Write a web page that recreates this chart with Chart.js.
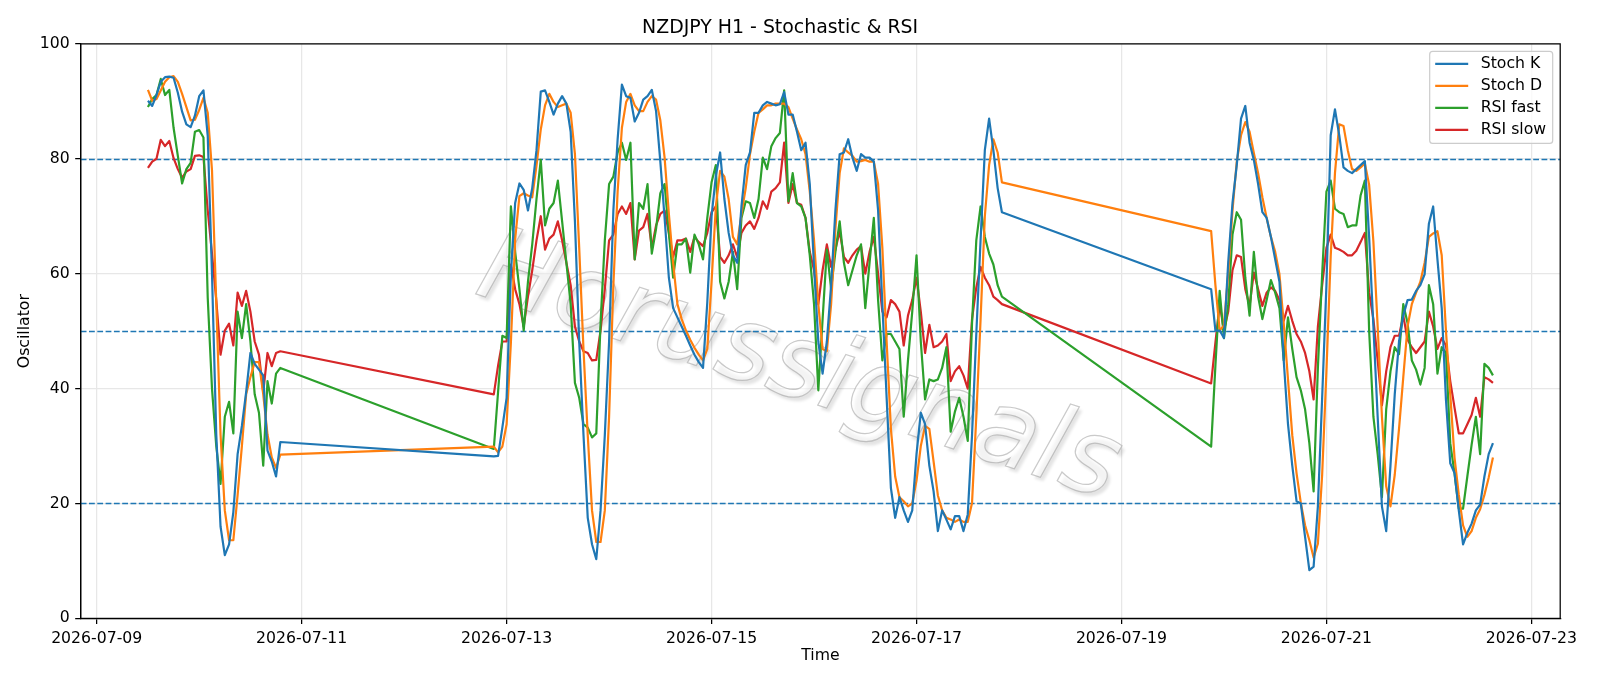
<!DOCTYPE html>
<html>
<head>
<meta charset="utf-8">
<title>NZDJPY H1 - Stochastic & RSI</title>
<script src="https://cdn.jsdelivr.net/npm/chart.js@4.4.1/dist/chart.umd.min.js"></script>
<style>
  html, body { margin: 0; padding: 0; background: #fff; }
  canvas { display: block; }
</style>
</head>
<body>
<canvas id="myChart" width="1600" height="686"></canvas>
<script>
// hourly bars, three runs separated by the weekends
var segments = [['2026-07-09 12:00', 32], ['2026-07-12 21:00', 120], ['2026-07-19 21:00', 67]];
var tickDates = ['2026-07-09', '2026-07-11', '2026-07-13', '2026-07-15', '2026-07-17', '2026-07-19', '2026-07-21', '2026-07-23'];
var yTicks = [0, 20, 40, 60, 80, 100];
var refLevels = [20, 50, 80];

var stochK = [
  90.1, 89.2, 91.1, 93.4, 94.2, 94.3, 94.1, 91.5, 88.2, 86.0, 85.5, 87.5, 90.9, 91.9, 84, 60,
  32, 16, 11.0, 12.9, 18.5, 28.6, 33.5, 39.4, 46.2, 44.3, 43.3, 42.3, 29.2, 27.3, 24.7, 30.7,
  // 07-12 21:00 ->
  28.2, 28.3, 33.2, 38.4, 60, 72.3, 75.7, 74.6, 71.0, 74.9,
  81.5, 91.7, 91.9, 89.9, 87.7, 89.6, 90.9, 89.6, 84.7, 69.1,
  48.2, 32, 17.5, 12.9, 10.3, 18.8, 31.9, 48.2, 71.0, 83.4,
  92.9, 90.9, 90.6, 86.5, 88.0, 90.3, 90.9, 92.0, 88.3, 79.5,
  69.7, 59.3, 54.0, 52.4, 50.8, 49.2, 47.5, 45.9, 44.6, 43.6,
  55, 70, 77, 81.1, 73.0, 67.1, 63.2, 61.9, 71.7, 78.9,
  81.1, 88.0, 88.0, 89.3, 89.9, 89.6, 89.3, 89.5, 91.6, 87.7,
  87.7, 84.7, 81.5, 82.8, 75.6, 61.2, 48.2, 42.6, 48.2, 58.0,
  71.0, 80.8, 81.1, 83.4, 80.2, 77.9, 80.8, 80.2, 80.2, 79.5,
  71.0, 54.7, 38.4, 22.7, 17.5, 21.1, 18.8, 16.8, 18.8, 28.6,
  35.8, 33.8, 26.6, 22.1, 15.2, 18.8, 17.2, 15.5, 17.8, 17.8,
  15.2, 18.1, 31.9, 49.5, 65.8, 81.5, 87.0, 81.5, 74.9, 70.7,
  // 07-19 21:00 ->
  57.3, 50.1, 50.1, 48.8, 62, 72.3, 78.9, 87.0, 89.2, 82.8,
  79.8, 75.6, 70.7, 69.7, 66.4, 62.5, 58.6, 44.9, 33.8, 26.6,
  20.4, 20.0, 14.2, 8.4, 9.0, 19.5, 38.4, 58.0, 84.1, 88.6,
  84.1, 78.5, 77.9, 77.5, 78.2, 78.9, 79.6, 66.4, 50.8, 35.1,
  19.5, 15.2, 26.6, 39.0, 48.2, 52.7, 55.4, 55.5, 57.0, 58.0,
  59.9, 68.7, 71.7, 62.5, 54, 38, 27, 25.3, 18.8, 12.9,
  14.9, 16.5, 18.8, 19.8, 24.7, 28.6, 30.5
];

var stochD = [
  92.0, 90.1, 90.4, 91.9, 93.4, 94.2, 94.4, 93.4, 91.3, 89.0, 86.7, 86.8, 88.5, 90.6, 88, 78,
  55, 32, 18.8, 13.6, 13.6, 21.5, 30, 39.0, 42, 44.6, 44.6, 39, 32, 28, 26.2, 28.5,
  29.9, 28.9, 29.9, 33.8, 48, 66, 73.5, 74.0, 73.6, 73.3,
  78.8, 85.1, 89.3, 91.3, 89.9, 89.0, 89.3, 89.6, 88.0, 80.8,
  64.5, 46.9, 31.9, 18.8, 13.3, 13.3, 18.8, 35.1, 58.0, 74.3,
  85.4, 89.9, 91.3, 89.3, 88.3, 88.3, 89.9, 90.9, 90.3, 86.7,
  80.2, 70.4, 61.9, 54.7, 52.1, 50.1, 48.5, 47.1, 45.9, 44.9,
  46.9, 58.6, 71.7, 77.9, 76.9, 73.0, 66.4, 65.1, 70.4, 74.9,
  80.8, 84.7, 88.0, 88.6, 89.3, 89.3, 89.6, 89.6, 89.6, 89.0,
  87.0, 85.1, 83.4, 80.8, 74.3, 65.8, 54.7, 46.9, 46.5, 54.7,
  67.8, 77.5, 81.8, 81.1, 80.5, 79.5, 79.6, 79.8, 79.5, 79.5,
  75.6, 64.5, 48.2, 33, 24.7, 21.1, 20.4, 19.5, 20, 24,
  30, 33.5, 33, 27.3, 21.4, 18.8, 17.5, 17.2, 16.8, 17.2,
  16.8, 16.8, 20.1, 35.1, 52, 70, 78.9, 83.4, 81.1, 75.9,
  67.4, 58.0, 50.1, 51.0, 60, 71.0, 79.5, 84.1, 86.4, 84.7,
  81, 77.5, 73.3, 69.7, 66.4, 63.8, 59.9, 51.4, 41.6, 31.9,
  25.3, 20.1, 16.2, 13.6, 10.6, 13, 25, 43, 63, 77.5,
  86.0, 85.7, 81.5, 78.2, 77.9, 78.5, 79.2, 75.5, 65.6, 50.8,
  35.1, 23, 19.5, 25, 33, 42, 50.8, 54.7, 56.7, 58.6,
  61.9, 66.4, 67.0, 67.4, 63.2, 50, 39, 28, 21.5, 16.2,
  14.2, 15.2, 17.5, 19, 21.5, 24.5, 28
];

var rsiFast = [
  89.0, 90.4, 91.1, 93.9, 91.1, 92.0, 85.4, 80.5, 75.7, 78.2, 79.3, 84.7, 85.0, 83.7, 55.8, 40,
  30, 23.4, 35.1, 37.7, 32.2, 53.4, 48.8, 54.7, 48.2, 39.0, 35.8, 26.6, 41.3, 37.4, 42.6, 43.6,
  29.5, 39.4, 49.2, 48.8, 71.7, 63.8, 57.3, 50.1, 58.6, 65.1,
  73.0, 79.8, 68.4, 71.3, 72.3, 76.2, 69.1, 61.9, 54.7, 41.0,
  38.4, 33.8, 33.2, 31.5, 32.2, 51.4, 65.8, 75.6, 76.9, 81.1,
  82.8, 79.8, 82.8, 62.5, 72.3, 71.3, 75.6, 63.5, 67.8, 74.0,
  75.6, 67, 59.3, 65.1, 65.1, 66.1, 60.2, 66.8, 65.1, 62.5,
  69.7, 75.9, 78.9, 58.6, 55.7, 58.6, 63.8, 57.3, 69.7, 72.6,
  72.3, 69.7, 73.0, 80.2, 78.2, 82.2, 83.6, 84.5, 91.9, 72.6,
  77.5, 72.3, 71.7, 69.7, 63.2, 54.7, 39.7, 52, 64.2, 57.3,
  63.8, 69.1, 61.9, 58.0, 60.6, 63.2, 65.1, 54.0, 61.9, 69.7,
  55.4, 44.9, 49.5, 49.5, 48.2, 46.9, 35.1, 44.9, 53.4, 63.2,
  48.2, 38.1, 41.6, 41.3, 41.6, 43.6, 47.2, 32.5, 36.0, 38.4,
  35.1, 30.9, 51.4, 65.8, 71.7, 66.4, 63.5, 61.6, 58.0, 56.0,
  29.9, 44, 57.0, 48.8, 54.7, 66.8, 70.7, 69.4, 59.3, 52.7,
  63.8, 56.0, 52.1, 55.4, 58.9, 56.7, 54.0, 44.9, 52.4, 46.9,
  42.0, 39.7, 36.4, 30.5, 22.1, 43.6, 59.9, 74.3, 76.2, 71.3,
  70.7, 70.4, 68.1, 68.4, 68.4, 73.6, 76.2, 50.1, 35.1, 28.6,
  21.1, 36.4, 43.0, 47.2, 46, 54.7, 51.4, 44.9, 43.3, 40.7,
  43.6, 58.0, 54.7, 42.6, 47.2, 46.2, 30.5, 25.3, 19.1, 19.1,
  24.7, 30.2, 35.1, 28.6, 44.3, 43.6, 42.3
];

var rsiSlow = [
  78.4, 79.5, 80.0, 83.3, 82.2, 83.1, 80.1, 78.2, 76.7, 77.8, 78.2, 80.5, 80.6, 80.3, 71.0, 63.5,
  55.4, 45.9, 50.1, 51.3, 47.5, 56.7, 54.4, 57.0, 53.4, 48.2, 45.9, 39.4, 46.2, 43.9, 46.2, 46.5,
  39.0, 44, 48.2, 48.2, 61.6, 57.3, 54.7, 50.8, 56.0, 60.6,
  65.8, 70.0, 64.2, 66.1, 66.8, 69.1, 65.8, 61.9, 58.0, 50.8,
  48.2, 46.5, 46.2, 44.9, 45.0, 50.1, 57.3, 65.8, 66.8, 70.4,
  71.7, 70.4, 72.3, 62.5, 67.5, 68.1, 70.4, 64.5, 68.4, 70.4,
  71.0, 67.1, 62.9, 65.8, 65.8, 66.1, 63.8, 66.4, 65.5, 64.8,
  67.1, 70.7, 71.7, 62.9, 61.9, 63.2, 65.1, 62.9, 67.1, 68.4,
  69.1, 67.8, 69.7, 72.6, 71.3, 74.3, 74.9, 75.9, 82.8, 72.3,
  75.6, 72.3, 72.0, 69.7, 63.8, 60.6, 54.7, 60.6, 65.1, 61.2,
  64.2, 67.4, 62.9, 61.9, 63.2, 64.2, 64.8, 60.0, 63.8, 66.4,
  60, 53.4, 52.4, 55.4, 54.7, 53.4, 47.5, 52.7, 55.4, 59.3,
  53.4, 46.2, 51.1, 47.2, 47.5, 48.2, 49.5, 41.3, 43.0, 43.9,
  42.3, 40.0, 52.1, 57.6, 61.2, 59.3, 58.0, 56.0, 55.4, 54.7,
  40.9, 48, 54.7, 50.1, 53.4, 60.6, 63.2, 62.9, 57.3, 54.4,
  60.2, 57.3, 54.4, 56.7, 57.6, 57.0, 55.4, 51.8, 54.4, 51.8,
  49.5, 48.2, 46.2, 43.0, 38.1, 50.8, 58.0, 64.5, 66.8, 64.5,
  64.2, 63.8, 63.2, 63.2, 64, 65.5, 67.1, 56.7, 52.1, 44.9,
  37.1, 43.0, 47.2, 49.2, 49.2, 52.7, 48.5, 47.2, 46.2, 47.2,
  48.2, 53.4, 50.8, 46.9, 48.8, 47.5, 41.3, 36.7, 32.2, 32.2,
  33.8, 35.4, 38.4, 35.1, 42.0, 41.6, 41.0
];

// x axis is hours since 2026-07-09 00:00
var xOrigin = Date.UTC(2026, 6, 9);
function toHours(str) {
  var parts = str.split(' ');
  var d = parts[0].split('-').map(Number);
  var t = (parts[1] || '00:00').split(':').map(Number);
  return (Date.UTC(d[0], d[1] - 1, d[2], t[0], t[1]) - xOrigin) / 3600000;
}

var times = [];
segments.forEach(function (s) {
  var h0 = toHours(s[0]);
  for (var i = 0; i < s[1]; i++) times.push(h0 + i);
});

function pts(vals) {
  return vals.map(function (v, i) { return {x: times[i], y: v}; });
}

var fontFamily = "'DejaVu Sans', 'Liberation Sans', sans-serif";
Chart.defaults.font.family = fontFamily;
Chart.defaults.color = '#000';

var gridColor = '#e7e7e7';

var watermark = {
  id: 'watermark',
  beforeDatasetsDraw: function (chart) {
    var ctx = chart.ctx;
    ctx.save();
    ctx.translate(790, 396);
    ctx.rotate(18 * Math.PI / 180);
    ctx.font = 'italic 104px ' + fontFamily;
    ctx.textAlign = 'center';
    ctx.textBaseline = 'alphabetic';
    ctx.shadowColor = 'rgba(0,0,0,0.2)';
    ctx.shadowOffsetX = 3;
    ctx.shadowOffsetY = 4;
    ctx.shadowBlur = 3;
    ctx.fillStyle = 'rgba(255,255,255,0.55)';
    ctx.fillText('Horussignals', 0, 0);
    ctx.shadowColor = 'transparent';
    ctx.lineWidth = 1.2;
    ctx.strokeStyle = 'rgba(150,150,150,0.5)';
    ctx.strokeText('Horussignals', 0, 0);
    ctx.restore();
  }
};

var refLines = {
  id: 'refLines',
  beforeDatasetsDraw: function (chart) {
    var ctx = chart.ctx, a = chart.chartArea, y = chart.scales.y;
    ctx.save();
    ctx.strokeStyle = '#1f77b4';
    ctx.lineWidth = 1.6;
    ctx.setLineDash([5.8, 2.5]);
    refLevels.forEach(function (lv) {
      var py = Math.round(y.getPixelForValue(lv)) + 0.5;
      ctx.beginPath();
      ctx.moveTo(a.left, py);
      ctx.lineTo(a.right, py);
      ctx.stroke();
    });
    ctx.restore();
  }
};

var frameAndLegend = {
  id: 'frameAndLegend',
  afterDraw: function (chart) {
    var ctx = chart.ctx, a = chart.chartArea;
    ctx.save();
    ctx.strokeStyle = '#000';
    ctx.lineWidth = 1.25;
    ctx.strokeRect(a.left, a.top, a.right - a.left, a.bottom - a.top);

    // legend, upper right inside the axes
    var w = 123, h = 92;
    var bx = a.right - 7.5 - w, by = a.top + 7.5;
    ctx.beginPath();
    ctx.roundRect(bx, by, w, h, 3);
    ctx.fillStyle = 'rgba(255,255,255,0.8)';
    ctx.fill();
    ctx.strokeStyle = '#cccccc';
    ctx.lineWidth = 1.2;
    ctx.stroke();
    ctx.font = '15.7px ' + fontFamily;
    ctx.textBaseline = 'middle';
    ctx.textAlign = 'left';
    chart.data.datasets.forEach(function (ds, i) {
      var ry = by + 12.5 + i * 22;
      ctx.strokeStyle = ds.borderColor;
      ctx.lineWidth = 2.3;
      ctx.beginPath();
      ctx.moveTo(bx + 5.5, ry);
      ctx.lineTo(bx + 38.5, ry);
      ctx.stroke();
      ctx.fillStyle = '#000';
      ctx.fillText(ds.label, bx + 51, ry);
    });
    ctx.restore();
  }
};

var ctx = document.getElementById('myChart').getContext('2d');
var myChart = new Chart(ctx, {
  type: 'line',
  data: {
    datasets: [
      {label: 'Stoch K', data: pts(stochK), borderColor: '#1f77b4', backgroundColor: '#1f77b4'},
      {label: 'Stoch D', data: pts(stochD), borderColor: '#ff7f0e', backgroundColor: '#ff7f0e'},
      {label: 'RSI fast', data: pts(rsiFast), borderColor: '#2ca02c', backgroundColor: '#2ca02c'},
      {label: 'RSI slow', data: pts(rsiSlow), borderColor: '#d62728', backgroundColor: '#d62728'}
    ]
  },
  options: {
    responsive: false,
    devicePixelRatio: 1,
    animation: false,
    layout: {padding: {top: 0, right: 39.8, bottom: 0, left: 0}},
    elements: {
      line: {borderWidth: 2.2, tension: 0, fill: false, borderJoinStyle: 'round', borderCapStyle: 'butt'},
      point: {radius: 0, hoverRadius: 0}
    },
    plugins: {
      legend: {display: false},
      tooltip: {enabled: false},
      title: {
        display: true,
        text: 'NZDJPY H1 - Stochastic & RSI',
        color: '#000',
        font: {size: 18.9, weight: 'normal', family: fontFamily, lineHeight: 1.2},
        padding: {top: 17, bottom: 4.2}
      }
    },
    scales: {
      x: {
        type: 'linear',
        position: 'bottom',
        min: -3.75,
        max: 342.75,
        afterBuildTicks: function (scale) {
          scale.ticks = tickDates.map(function (d) { return {value: toHours(d)}; });
        },
        afterFit: function (scale) { scale.height = 67.6; },
        ticks: {
          autoSkip: false,
          maxRotation: 0,
          padding: 5.5,
          font: {size: 15.7},
          color: '#000',
          callback: function (value, index) { return tickDates[index]; }
        },
        grid: {color: gridColor, lineWidth: 1.25, tickColor: '#000', tickLength: 5.5, tickWidth: 1.25, drawTicks: true},
        border: {display: true, color: '#000', width: 1.25},
        title: {display: true, text: 'Time', font: {size: 15.7, lineHeight: 1.2}, color: '#000', padding: {top: 4, bottom: 20.6}}
      },
      y: {
        type: 'linear',
        position: 'left',
        min: 0,
        max: 100,
        afterBuildTicks: function (scale) {
          scale.ticks = yTicks.map(function (v) { return {value: v}; });
        },
        afterFit: function (scale) { scale.width = 80.7; },
        ticks: {padding: 5.5, font: {size: 15.7}, color: '#000'},
        grid: {color: gridColor, lineWidth: 1.25, tickColor: '#000', tickLength: 5.5, tickWidth: 1.25, drawTicks: true},
        border: {display: true, color: '#000', width: 1.25},
        title: {display: true, text: 'Oscillator', font: {size: 15.7, lineHeight: 1.2}, color: '#000', padding: {top: 15.1, bottom: 4}}
      }
    }
  },
  plugins: [watermark, refLines, frameAndLegend]
});
</script>
</body>
</html>
